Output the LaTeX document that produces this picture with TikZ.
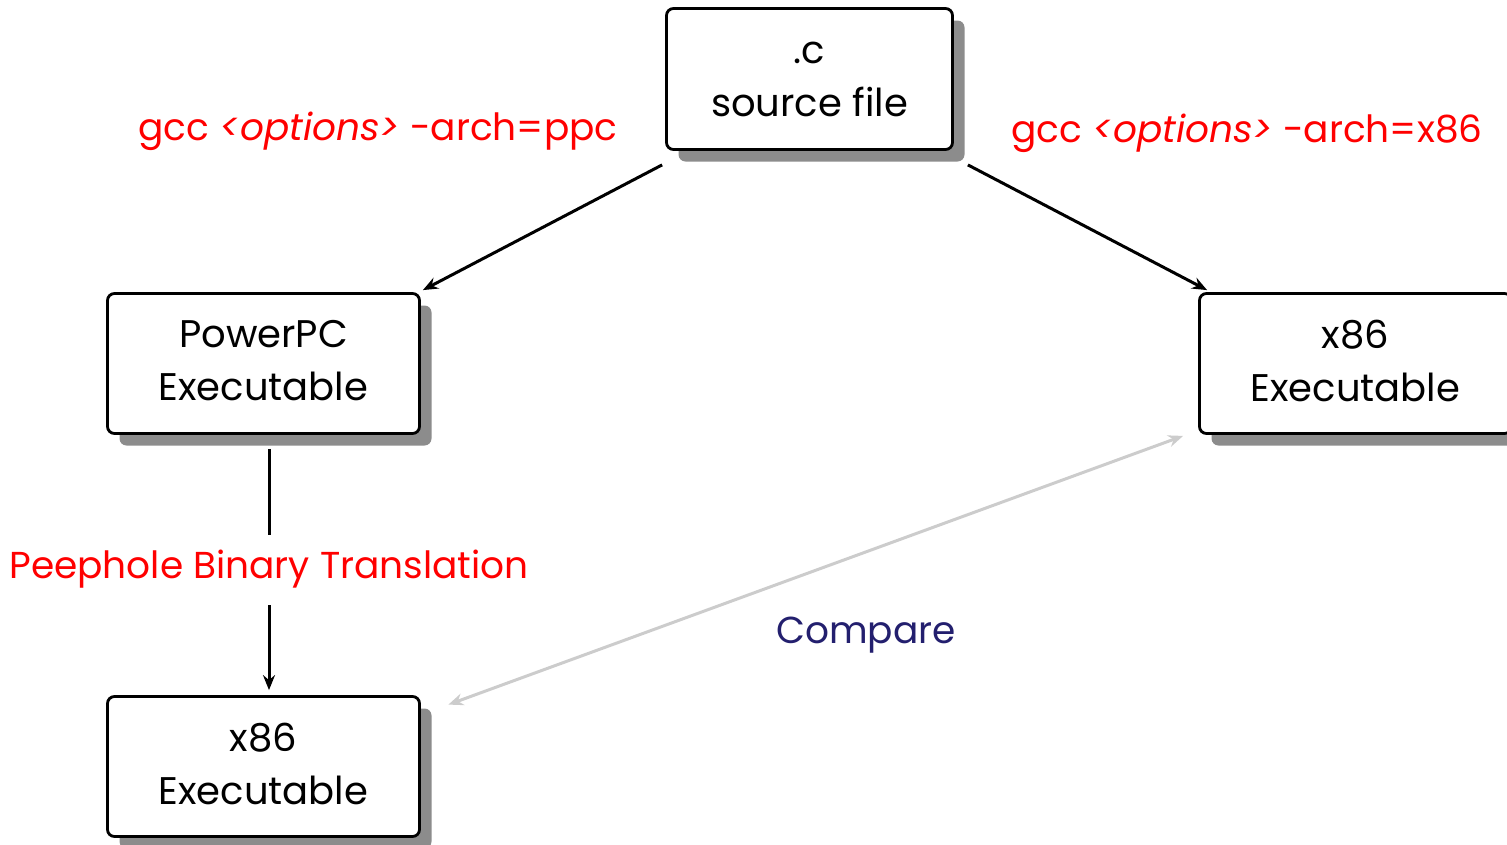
\documentclass[tikz,border=0pt]{standalone}
\usepackage{fontspec}
\setmainfont{Poppins}
\usetikzlibrary{arrows.meta,shadows}
\definecolor{shadowgray}{HTML}{8C8C8C}
\definecolor{cmpgray}{HTML}{CCCCCC}
\definecolor{cmpblue}{HTML}{231F6E}
\begin{document}
\begin{tikzpicture}[x=1pt,y=-1pt,
  box/.style={draw=black, line width=2.8pt, rounded corners=7pt, fill=white,
    minimum width=312pt, minimum height=140pt, align=center, inner sep=0pt,
    text depth=6pt, font=\fontsize{38.5}{53}\selectfont,
    drop shadow={shadow xshift=12pt, shadow yshift=-12pt, fill=shadowgray, opacity=1}},
  cmd/.style={text=red, font=\fontsize{37.5}{42}\selectfont, inner sep=0pt},
  flow/.style={draw=black, line width=3pt, -{Stealth[length=15pt,width=12pt,inset=5pt]}},
  cmp/.style={draw=cmpgray, line width=3pt,
    {Stealth[length=15pt,width=12pt,inset=5pt]}-{Stealth[length=15pt,width=12pt,inset=5pt]}}
]
\useasboundingbox (0,0) rectangle (1507,844);

% the four boxes
\node[box, minimum width=286pt, minimum height=141pt, text depth=0pt] (src) at (809.5,79) {.c\\source file};
\node[box] (ppc) at (263.5,363.5) {PowerPC\\Executable};
\node[box] (xr) at (1355.5,363.5) {x86\\Executable};
\node[box] (xb) at (263.5,766.5) {x86\\Executable};

% compiler invocations
\node[cmd] (gccppc) at (378,131) {gcc \textit{<options>} -arch=ppc};
\node[cmd] (gccx) at (1247,133) {gcc \textit{<options>} -arch=x86};

% compilation arrows
\draw[flow] ([shift={(-3,14)}]src.south west) -- ([shift={(2,-2)}]ppc.north east);
\draw[flow] ([shift={(14,14)}]src.south east) -- ([shift={(9,-2)}]xr.north west);

% translation step
\draw[flow] ([shift={(5.5,14)}]ppc.south) -- node[cmd, fill=white, minimum height=70pt] (pbt) {Peephole Binary Translation} ([shift={(5.5,-5)}]xb.north);

% comparison
\draw[cmp] ([shift={(-15,1)}]xr.south west) -- ([shift={(27.5,9.5)}]xb.north east);
\node[text=cmpblue, font=\fontsize{37.5}{42}\selectfont, inner sep=0pt] (cmplabel) at (866,635) {Compare};
\end{tikzpicture}
\end{document}
